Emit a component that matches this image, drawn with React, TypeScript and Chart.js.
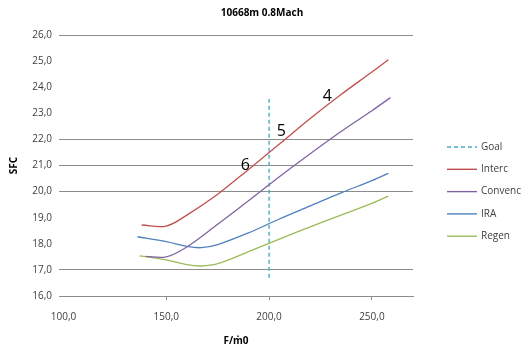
import React, { useEffect, useRef } from "react";
import { Chart, registerables } from "chart.js";

Chart.register(...registerables);

const chartTitle = "10668m 0.8Mach";
const xTitle = "F/ṁ0";
const yTitle = "SFC";
const xTicks = [100, 150, 200, 250];
const yGridShown = [16, 17, 20, 21, 22, 26];

const intercX = [138, 150, 160, 175, 190, 205, 220, 235, 250, 258];
const intercY = [18.72, 18.68, 19.1, 19.9, 20.85, 21.82, 22.8, 23.72, 24.58, 25.05];

const convX = [140, 150, 160, 175, 190, 205, 220, 235, 250, 259];
const convY = [17.52, 17.5, 17.88, 18.75, 19.65, 20.57, 21.45, 22.3, 23.1, 23.6];

const iraX = [136, 150, 160, 167, 175, 190, 205, 220, 235, 250, 258];
const iraY = [18.27, 18.08, 17.9, 17.85, 17.97, 18.42, 18.95, 19.45, 19.95, 20.42, 20.7];

const regenX = [137, 150, 160, 167, 175, 190, 205, 220, 235, 250, 258];
const regenY = [17.54, 17.38, 17.2, 17.15, 17.24, 17.7, 18.18, 18.65, 19.1, 19.55, 19.83];

const goalX = [200, 200];
const goalY = [16.7, 23.55];

const notes = [
  { text: "6", x: 188.4, y: 21.02 },
  { text: "5", x: 205.9, y: 22.32 },
  { text: "4", x: 228.3, y: 23.66 },
];

const pts = (xs: number[], ys: number[]) => xs.map((x, i) => ({ x, y: ys[i] }));

export default function App() {
  const ref = useRef<HTMLCanvasElement>(null);
  useEffect(() => {
    if (!ref.current) return;
    const font = "'Open Sans', sans-serif";
    const overlay = {
      id: "overlay",
      afterDraw(chart: any) {
        const ctx = chart.ctx;
        ctx.save();
        ctx.fillStyle = "#000";
        ctx.font = `bold 10px ${font}`;
        ctx.textAlign = "center";
        ctx.textBaseline = "middle";
        ctx.fillText(chartTitle, 262, 13);
        const xs = chart.scales.x, ys = chart.scales.y;
        ctx.font = `16px ${font}`;
        notes.forEach((n) => {
          ctx.fillText(n.text, xs.getPixelForValue(n.x), ys.getPixelForValue(n.y));
        });
        ctx.font = `10px ${font}`;
        ctx.textAlign = "left";
        const order = [4, 0, 1, 2, 3];
        order.forEach((di, i) => {
          const ds = chart.data.datasets[di];
          const y = 147 + i * 22.3;
          ctx.strokeStyle = ds.borderColor;
          ctx.lineWidth = 1.4;
          ctx.setLineDash(ds.borderDash || []);
          ctx.beginPath();
          ctx.moveTo(447, y);
          ctx.lineTo(477, y);
          ctx.stroke();
          ctx.setLineDash([]);
          ctx.fillStyle = "#404040";
          ctx.fillText(ds.label, 481, y);
        });
        ctx.restore();
      },
    };
    const line = (label: string, data: any, color: string, extra: any = {}) => ({
      label,
      data,
      borderColor: color,
      backgroundColor: color,
      borderWidth: 1.3,
      pointRadius: 0,
      tension: 0.35,
      fill: false,
      ...extra,
    });
    const chart = new Chart(ref.current, {
      type: "line",
      data: {
        datasets: [
          line("Interc", pts(intercX, intercY), "#c0504d"),
          line("Convenc", pts(convX, convY), "#8064a2"),
          line("IRA", pts(iraX, iraY), "#4f81bd"),
          line("Regen", pts(regenX, regenY), "#9bbb59"),
          line("Goal", pts(goalX, goalY), "#4bacc6", { borderDash: [4, 3], tension: 0, borderWidth: 1.4 }),
        ] as any,
      },
      options: {
        responsive: false,
        animation: false,
        layout: { padding: { left: 0, right: 112, top: 35, bottom: 0 } },
        plugins: { legend: { display: false }, title: { display: false }, tooltip: { enabled: false } },
        scales: {
          x: {
            type: "linear",
            min: 97.8,
            max: 270,
            afterBuildTicks: (s: any) => {
              s.ticks = xTicks.map((v) => ({ value: v }));
            },
            afterFit: (s: any) => {
              s.height = 54;
            },
            grid: {
              drawOnChartArea: false,
              tickLength: 4,
              color: (c: any) => (c.tick && c.tick.value === 100 ? "rgba(0,0,0,0)" : "#8c8c8c"),
            },
            border: { display: true, color: "#8c8c8c" },
            ticks: {
              font: { family: font, size: 10 },
              color: "#404040",
              padding: 11,
              callback: (v: any) => Number(v).toFixed(1).replace(".", ","),
            },
            title: {
              display: true,
              text: xTitle,
              font: { family: font, size: 10, weight: "bold" },
              color: "#000",
              padding: { top: 0, bottom: 3 },
            },
          },
          y: {
            type: "linear",
            min: 16,
            max: 26,
            afterFit: (s: any) => {
              s.width = 59;
            },
            ticks: {
              stepSize: 1,
              font: { family: font, size: 10 },
              color: "#404040",
              padding: 7,
              callback: (v: any) => Number(v).toFixed(1).replace(".", ","),
            },
            grid: {
              drawTicks: false,
              lineWidth: 1,
              color: (c: any) => (c.tick && yGridShown.includes(c.tick.value) ? "#8c8c8c" : "rgba(0,0,0,0)"),
            },
            border: { display: false },
            title: {
              display: true,
              text: yTitle,
              font: { family: font, size: 10, weight: "bold" },
              color: "#000",
              padding: { top: 8, bottom: 0 },
            },
          },
        },
      },
      plugins: [overlay],
    } as any);
    return () => chart.destroy();
  }, []);
  return (
    <div style={{ position: "absolute", left: 0, top: 0, width: 525, height: 350, background: "#fff" }}>
      <canvas ref={ref} width={525} height={350} />
    </div>
  );
}
